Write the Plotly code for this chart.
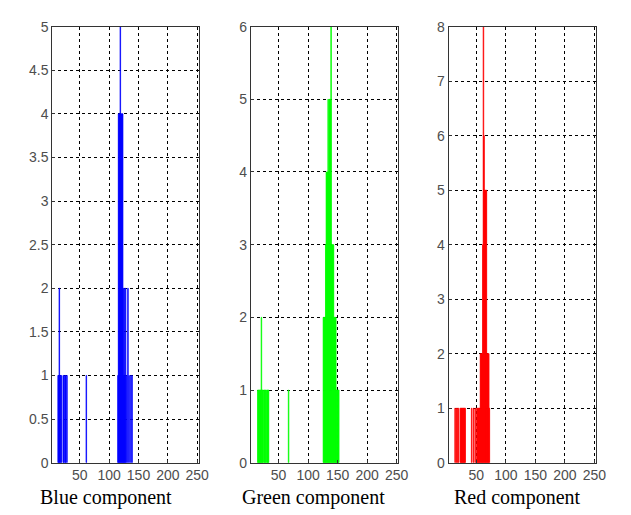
import plotly.graph_objects as go

# ---- data (bin value -> pixel count) ----
blue_x = [13, 14, 15, 16, 17, 19, 22, 23, 25, 26, 28, 61,
          115, 116, 117, 118, 119, 120, 121, 122, 123, 124, 125, 126, 127, 128, 130, 132, 134, 137, 139]
blue_y = [1, 1, 2, 1, 1, 1, 1, 1, 1, 1, 1, 1,
          1, 4, 4, 4, 5, 4, 4, 4, 4, 2, 1, 2, 1, 2, 1, 2, 1, 1, 1]

green_x = [15, 16, 17, 18, 19, 20, 21, 22, 23, 24, 26, 27, 28, 30, 31, 32, 33, 67,
           126, 127, 128, 129, 130, 131, 132, 133, 134, 135, 136, 137, 138, 139, 140, 141, 142, 143,
           144, 145, 146, 147, 148, 149, 150, 151, 152]
green_y = [1, 1, 1, 1, 1, 1, 2, 1, 1, 1, 1, 1, 1, 1, 1, 1, 1, 1,
           2, 2, 2, 2, 3, 4, 4, 4, 5, 4, 5, 5, 5, 6, 3, 3, 3, 3,
           2, 2, 2, 2, 1, 1, 1, 1, 1]

red_x = [14, 16, 18, 20, 23, 24, 25, 26, 27, 28, 29, 30, 31, 42, 45, 48, 51, 52, 53, 54, 55, 56,
         57, 58, 59, 60, 61, 62, 63, 64, 65, 66, 67, 68, 69, 70, 71, 72]
red_y = [1, 1, 1, 1, 1, 1, 1, 1, 1, 1, 1, 1, 1, 1, 1, 1, 1, 1, 1, 1, 1, 1,
         2, 2, 2, 2, 4, 8, 6, 5, 5, 5, 5, 2, 2, 2, 2, 1]

x_ticks = [50, 100, 150, 200, 250]
titles = ["Blue component", "Green component", "Red component"]
colors = ["#0000ff", "#00ff00", "#ff0000"]
y_max = [5, 6, 8]
y_step = [0.5, 1, 1]

W, H = 631, 515
x_doms = [(45 / W, 194 / W), (246.7 / W, 396.7 / W), (447.7 / W, 597.7 / W)]
y_dom = ((515 - 461) / H, (515 - 11) / H)

fig = go.Figure()
series = [(blue_x, blue_y), (green_x, green_y), (red_x, red_y)]
tick_font = dict(family="Arial, Liberation Sans, sans-serif", size=14, color="#4d4d4d")

layout = dict(
    width=W, height=H,
    margin=dict(l=0, r=0, t=0, b=0),
    paper_bgcolor="white", plot_bgcolor="white",
    showlegend=False,
    annotations=[],
)

for i, ((xs, ys), c) in enumerate(zip(series, colors)):
    n = "" if i == 0 else str(i + 1)
    fig.add_trace(go.Bar(
        x=xs, y=ys, width=1,
        marker=dict(color=c, line=dict(color=c, width=0.7)),
        xaxis="x" + n, yaxis="y" + n,
    ))
    layout["xaxis" + n] = dict(
        domain=list(x_doms[i]), anchor="y" + n, range=[3, 253],
        tickvals=x_ticks, ticktext=[str(v) for v in x_ticks],
        showgrid=True, gridcolor="#000000", griddash="dot", gridwidth=1,
        showline=True, linecolor="#333333", linewidth=1, mirror=True,
        ticks="inside", ticklen=3, tickcolor="#333333",
        tickfont=tick_font, zeroline=False, fixedrange=True,
    )
    layout["yaxis" + n] = dict(
        domain=list(y_dom), anchor="x" + n, range=[0, y_max[i]],
        dtick=y_step[i], tick0=0,
        showgrid=True, gridcolor="#000000", griddash="dot", gridwidth=1,
        showline=True, linecolor="#333333", linewidth=1, mirror=True,
        ticks="inside", ticklen=3, tickcolor="#333333",
        tickfont=tick_font, zeroline=False, fixedrange=True,
    )

label_x = [100, 310, 518]
for t, lx in zip(titles, label_x):
    layout["annotations"].append(dict(
        text=t, x=lx / W, y=(515 - 497) / H, xref="paper", yref="paper",
        xanchor="center", yanchor="middle", showarrow=False,
        font=dict(family="Liberation Serif, Times New Roman, serif", size=20, color="#000000"),
    ))

fig.update_layout(**layout)
fig.write_html("out.html")
